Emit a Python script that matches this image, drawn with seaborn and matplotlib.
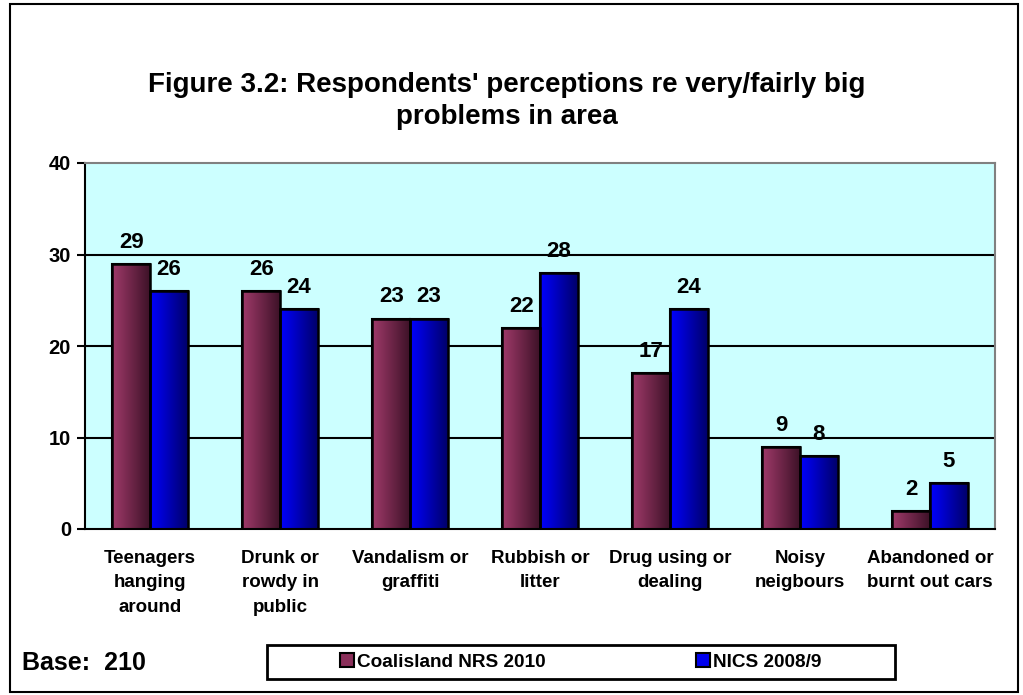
import numpy as np
import pandas as pd
import matplotlib.pyplot as plt
import matplotlib.colors as mcolors
from matplotlib.patches import Rectangle, Patch
import seaborn as sns

categories = ["Teenagers\nhanging\naround", "Drunk or\nrowdy in\npublic", "Vandalism or\ngraffiti",
              "Rubbish or\nlitter", "Drug using or\ndealing", "Noisy\nneigbours", "Abandoned or\nburnt out cars"]
coalisland = [29, 26, 23, 22, 17, 9, 2]
nics = [26, 24, 23, 28, 24, 8, 5]
series = ["Coalisland NRS 2010", "NICS 2008/9"]

df = pd.DataFrame({
    "category": categories * 2,
    "value": coalisland + nics,
    "series": [series[0]] * len(categories) + [series[1]] * len(categories),
})

sns.set_theme(style="white")
plt.rcParams['font.family'] = ['Liberation Sans', 'DejaVu Sans']
plt.rcParams['text.color'] = 'black'
plt.rcParams['xtick.color'] = 'black'
plt.rcParams['ytick.color'] = 'black'
plt.rcParams['axes.labelcolor'] = 'black'

colors = {series[0]: "#8a2f5a", series[1]: "#0000ee"}
grads = {series[0]: ("#a03a6a", "#3e1228"), series[1]: ("#0000ff", "#00006a")}

fig = plt.figure(figsize=(10.23, 6.95), dpi=100)
ax = fig.add_axes([85 / 1023, 166 / 695, 910 / 1023, 366 / 695])
ax.set_facecolor("#ccffff")

sns.barplot(data=df, x="category", y="value", hue="series", palette=colors,
            width=0.58, edgecolor="black", linewidth=1.5, ax=ax, legend=False)

# gradient fill inside each bar
for i, cont in enumerate(ax.containers):
    c1, c2 = grads[series[i]]
    cmap = mcolors.LinearSegmentedColormap.from_list("g", [c1, c2])
    for bar in cont:
        x0, y0 = bar.get_x(), bar.get_y()
        w, h = bar.get_width(), bar.get_height()
        im = ax.imshow(np.linspace(0, 1, 64).reshape(1, -1), cmap=cmap, aspect="auto",
                       extent=[x0, x0 + w, y0, y0 + h], zorder=bar.get_zorder() + 0.1)
        im.set_clip_path(bar)
        ax.add_patch(Rectangle((x0, y0), w, h, fill=False, edgecolor="black",
                               linewidth=1.8, zorder=bar.get_zorder() + 0.2))
    ax.bar_label(cont, padding=8, fontsize=16, fontweight="bold")

ax.set_xlim(-0.5, len(categories) - 0.5)
ax.set_ylim(0, 40)
ax.set_yticks([0, 10, 20, 30, 40])
ax.set_yticklabels(["0", "10", "20", "30", "40"], fontsize=14.5, fontweight="bold")
for yv in [10, 20, 30]:
    ax.axhline(yv, color="black", linewidth=1.5, zorder=0.5)

ax.set_xticks(range(len(categories)))
ax.set_xticklabels(categories, fontsize=13.5, fontweight="bold", linespacing=1.58)
ax.tick_params(axis="x", length=0, pad=15)
ax.set_xticks(np.arange(-0.5, len(categories), 1.0), minor=True)
ax.tick_params(axis="x", which="minor", length=6, width=1.5, direction="out", color="black")
ax.tick_params(axis="y", length=6, width=1.5, direction="out", color="black", left=True, pad=4)
ax.set_xlabel("")
ax.set_ylabel("")

for side in ["left", "bottom"]:
    ax.spines[side].set_color("black")
    ax.spines[side].set_linewidth(1.5)
for side in ["top", "right"]:
    ax.spines[side].set_color("#808080")
    ax.spines[side].set_linewidth(1.5)

fig.text(507 / 1023, 1 - 85 / 695, "Figure 3.2: Respondents' perceptions re very/fairly big",
         ha="center", va="center", fontsize=20, fontweight="bold")
fig.text(507 / 1023, 1 - 117 / 695, "problems in area",
         ha="center", va="center", fontsize=20, fontweight="bold")
fig.text(22 / 1023, 1 - 663 / 695, "Base:  210", ha="left", va="center",
         fontsize=18, fontweight="bold")

# legend box and entries
fig.patches.append(Rectangle((267 / 1023, 1 - 679 / 695), 628 / 1023, 34 / 695, fill=False,
                             edgecolor="black", linewidth=2, transform=fig.transFigure))
handles = [Patch(facecolor=colors[s], edgecolor="black", linewidth=1.5) for s in series]
leg = fig.legend(handles, series, loc="center", ncol=2,
                 bbox_to_anchor=(581 / 1023, 1 - 662 / 695),
                 prop={"weight": "bold", "size": 13.7}, frameon=False,
                 handlelength=0.7, handleheight=0.7, handletextpad=0.2, columnspacing=7.9)

fig.patches.append(Rectangle((10 / 1023, 3 / 695), 1008 / 1023, 688 / 695, fill=False,
                             edgecolor="black", linewidth=1.5, transform=fig.transFigure))

fig.savefig("out.png", dpi=100)
